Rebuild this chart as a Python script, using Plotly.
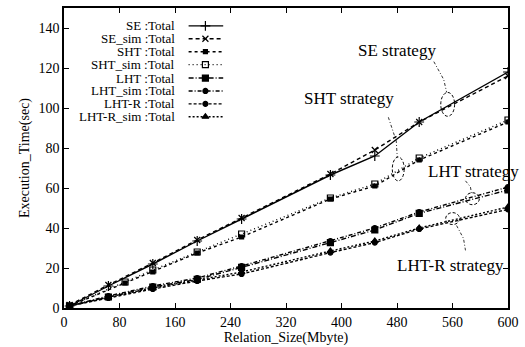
import plotly.graph_objects as go

# ---------------- data ----------------
x_main = [8, 64, 128, 192, 256, 384, 448, 512, 640]
x_sht = [8, 88, 128, 192, 256, 384, 448, 512, 640]

se = [1, 11, 22, 33.5, 44.5, 66.5, 76, 93, 118]
se_sim = [1.5, 11.5, 22.5, 34, 45, 67, 79, 93, 116]
sht = [1, 12.5, 18, 27.5, 35.5, 54.5, 61, 74, 93]
sht_sim = [1, 13, 19, 28, 37, 55, 62, 75, 94]
lht = [1, 5.5, 10.5, 14.3, 20.3, 32.7, 39, 47.3, 59]
lht_sim = [1, 6, 11, 15, 21, 33.5, 40, 48, 60.5]
lhtr = [1, 5, 9.5, 13.5, 17, 27.7, 32.7, 39.5, 49.3]
lhtr_sim = [1, 5.5, 10, 14, 18, 28.5, 33.5, 40, 50.5]

x_tickvals = [0, 80, 160, 240, 320, 400, 480, 560, 640]
x_ticktext = ["0", "80", "160", "240", "320", "400", "480", "560", "600"]
y_tickvals = [0, 20, 40, 60, 80, 100, 120, 140]

names = ["SE :Total", "SE_sim :Total", "SHT :Total", "SHT_sim :Total",
         "LHT :Total", "LHT_sim :Total", "LHT-R :Total", "LHT-R_sim :Total"]

FONT = "Liberation Serif"
W, H = 525, 347
L, R, T, B = 64, 12, 6, 39

series = [
    (x_main, se, "solid", "cross-thin", 7),
    (x_main, se_sim, "4px,3px", "x-thin", 6),
    (x_sht, sht, "3px,3px", "square", 4),
    (x_sht, sht_sim, "1px,3px", "square-open", 6),
    (x_main, lht, "5px,2px,1px,2px", "square", 6),
    (x_main, lht_sim, "4px,2px,1px,2px", "circle", 5),
    (x_main, lhtr, "3px,2px", "circle", 5),
    (x_main, lhtr_sim, "2px,2px", "triangle-up", 6),
]

fig = go.Figure()
for (xs, ys, dash, sym, sz), nm in zip(series, names):
    fig.add_trace(go.Scatter(
        x=xs, y=ys, mode="lines+markers", name=nm, showlegend=False,
        line=dict(color="black", width=1.4, dash=dash),
        marker=dict(symbol=sym, size=sz, color="black",
                    line=dict(color="black", width=1.2)),
    ))

# ------------- custom legend (text left of sample, like gnuplot) -------------
pw, ph = W - L - R, H - T - B
row_px = [24, 37, 50, 63, 76.5, 89.5, 102.5, 115.5]
for (xs, ys, dash, sym, sz), nm, ry in zip(series, names, row_px):
    yy = ry - T
    fig.add_trace(go.Scatter(
        x=[190 - L, 225 - L], y=[yy, yy], mode="lines", showlegend=False,
        xaxis="x2", yaxis="y2", hoverinfo="skip",
        line=dict(color="black", width=1.4, dash=dash)))
    fig.add_trace(go.Scatter(
        x=[207 - L], y=[yy], mode="markers", showlegend=False,
        xaxis="x2", yaxis="y2", hoverinfo="skip",
        marker=dict(symbol=sym, size=sz, color="black",
                    line=dict(color="black", width=1.2))))
    fig.add_annotation(x=178 - L, y=yy, xref="x2", yref="y2", text=nm,
                       showarrow=False, xanchor="right", yanchor="middle",
                       font=dict(family=FONT, size=13, color="black"))

# ------------- strategy labels, ellipses and leader lines -------------
labels = [("SE strategy", 401, 49), ("SHT strategy", 352, 97),
          ("LHT strategy", 478, 171), ("LHT-R strategy", 455, 265)]
for txt, px, py in labels:
    fig.add_annotation(x=px - L, y=py - T, xref="x2", yref="y2", text=txt,
                       showarrow=False, xanchor="center", yanchor="middle",
                       font=dict(family=FONT, size=17, color="black"))

ellipses = [(452, 103, 7, 12), (402, 168, 6, 12), (477, 198, 7, 6), (457, 218, 7, 6)]
for cx, cy, rx, ryy in ellipses:
    fig.add_shape(type="circle", xref="x2", yref="y2",
                  x0=cx - rx - L, x1=cx + rx - L, y0=cy - ryy - T, y1=cy + ryy - T,
                  line=dict(color="black", width=1, dash="3px,2px"))

leaders = [[(438, 60), (448, 78), (451, 91)],
           [(392, 116), (400, 140), (401, 156)],
           [(470, 180), (475, 186), (476, 192)],
           [(461, 225), (468, 238), (470, 250)]]
for pts in leaders:
    fig.add_trace(go.Scatter(
        x=[p[0] - L for p in pts], y=[p[1] - T for p in pts], mode="lines",
        xaxis="x2", yaxis="y2", showlegend=False, hoverinfo="skip",
        line=dict(color="black", width=0.8, dash="3px,2px,1px,2px")))

axis_common = dict(showline=True, linecolor="black", linewidth=1.5, mirror="ticks",
                   ticks="inside", ticklen=5, tickcolor="black", tickwidth=1,
                   showgrid=False, zeroline=False,
                   tickfont=dict(family=FONT, size=14, color="black"))

fig.update_layout(
    width=W, height=H,
    margin=dict(l=L, r=R, t=T, b=B),
    paper_bgcolor="white", plot_bgcolor="white",
    showlegend=False,
    xaxis=dict(range=[0, 640], tickvals=x_tickvals, ticktext=x_ticktext,
               title=dict(text="Relation_Size(Mbyte)", standoff=2,
                          font=dict(family=FONT, size=14, color="black")),
               **axis_common),
    yaxis=dict(range=[0, 150], tickvals=y_tickvals,
               title=dict(text="Execution_Time(sec)", standoff=6,
                          font=dict(family=FONT, size=14, color="black")),
               **axis_common),
    xaxis2=dict(overlaying="x", range=[0, pw], visible=False, domain=[0, 1]),
    yaxis2=dict(overlaying="y", range=[ph, 0], visible=False, domain=[0, 1]),
)

fig.write_html("out.html")
